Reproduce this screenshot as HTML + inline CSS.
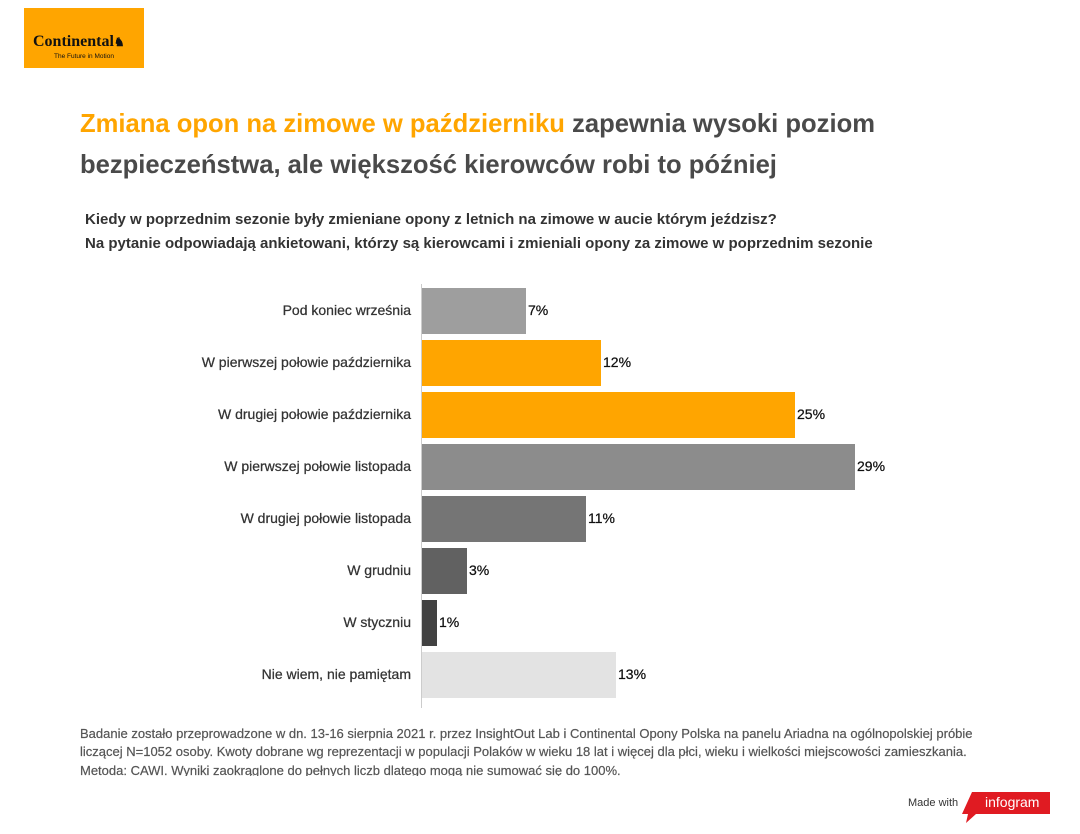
<!DOCTYPE html>
<html><head><meta charset="utf-8"><style>
body{margin:0;width:1080px;height:834px;background:#fff;font-family:"Liberation Sans",sans-serif;position:relative;overflow:hidden}
.a{position:absolute;white-space:nowrap}
.t{font-size:25.6px;font-weight:bold;color:#4a4a4a}
.s{font-size:15px;font-weight:bold;color:#333}
.l{font-size:14px;color:#333;right:669px;text-align:right;-webkit-text-stroke:0.25px #333}
.v{font-size:14px;color:#111;-webkit-text-stroke:0.25px #111}
.b{position:absolute;left:422px;height:46px}
.f{font-size:13px;color:#555;left:80px;-webkit-text-stroke:0.2px #555}
</style></head><body>
<div class="a" style="left:24px;top:8px;width:120px;height:60px;background:#ffa500">
<div class="a" style="left:9px;top:25px;font:bold 16px 'Liberation Serif',serif;color:#111">Continental<span style="font-size:12px">♞</span></div>
<div class="a" style="left:30px;top:45px;font-size:6.5px;color:#111">The Future in Motion</div></div>
<div class="a t" style="left:80px;top:110px"><span style="color:#ffa500">Zmiana opon na zimowe w październiku</span> zapewnia wysoki poziom</div>
<div class="a t" style="left:80px;top:151px">bezpieczeństwa, ale większość kierowców robi to później</div>
<div class="a s" style="left:85px;top:211px">Kiedy w poprzednim sezonie były zmieniane opony z letnich na zimowe w aucie którym jeździsz?</div>
<div class="a s" style="left:85px;top:235px">Na pytanie odpowiadają ankietowani, którzy są kierowcami i zmieniali opony za zimowe w poprzednim sezonie</div>
<div class="a" style="left:421px;top:284px;width:1px;height:424px;background:#ccc"></div>
<div class="a l" style="top:302px">Pod koniec września</div>
<div class="b" style="top:288px;width:104px;background:#9e9e9e"></div><div class="a v" style="left:528px;top:302px">7%</div>
<div class="a l" style="top:354px">W pierwszej połowie października</div>
<div class="b" style="top:340px;width:179px;background:#ffa500"></div><div class="a v" style="left:603px;top:354px">12%</div>
<div class="a l" style="top:406px">W drugiej połowie października</div>
<div class="b" style="top:392px;width:373px;background:#ffa500"></div><div class="a v" style="left:797px;top:406px">25%</div>
<div class="a l" style="top:458px">W pierwszej połowie listopada</div>
<div class="b" style="top:444px;width:433px;background:#8c8c8c"></div><div class="a v" style="left:857px;top:458px">29%</div>
<div class="a l" style="top:510px">W drugiej połowie listopada</div>
<div class="b" style="top:496px;width:164px;background:#757575"></div><div class="a v" style="left:588px;top:510px">11%</div>
<div class="a l" style="top:562px">W grudniu</div>
<div class="b" style="top:548px;width:45px;background:#616161"></div><div class="a v" style="left:469px;top:562px">3%</div>
<div class="a l" style="top:614px">W styczniu</div>
<div class="b" style="top:600px;width:15px;background:#424242"></div><div class="a v" style="left:439px;top:614px">1%</div>
<div class="a l" style="top:666px">Nie wiem, nie pamiętam</div>
<div class="b" style="top:652px;width:194px;background:#e3e3e3"></div><div class="a v" style="left:618px;top:666px">13%</div>
<div class="a" style="left:0;top:724px;width:1080px;height:52px;overflow:hidden">
<div class="a f" style="top:2px">Badanie zostało przeprowadzone w dn. 13-16 sierpnia 2021 r. przez InsightOut Lab i Continental Opony Polska na panelu Ariadna na ogólnopolskiej próbie</div>
<div class="a f" style="top:20px">liczącej N=1052 osoby. Kwoty dobrane wg reprezentacji w populacji Polaków w wieku 18 lat i więcej dla płci, wieku i wielkości miejscowości zamieszkania.</div>
<div class="a f" style="top:39px">Metoda: CAWI. Wyniki zaokrąglone do pełnych liczb dlatego mogą nie sumować się do 100%.</div></div>
<div class="a" style="left:908px;top:797px;font-size:11px;color:#333">Made with</div>
<svg class="a" style="left:962px;top:792px" width="90" height="32"><polygon points="10,0 88,0 88,22 14,22 4,31 6,22 0,22" fill="#e01b22"/></svg>
<div class="a" style="left:985px;top:794px;font-size:14px;color:#fff">infogram</div>
</body></html>
